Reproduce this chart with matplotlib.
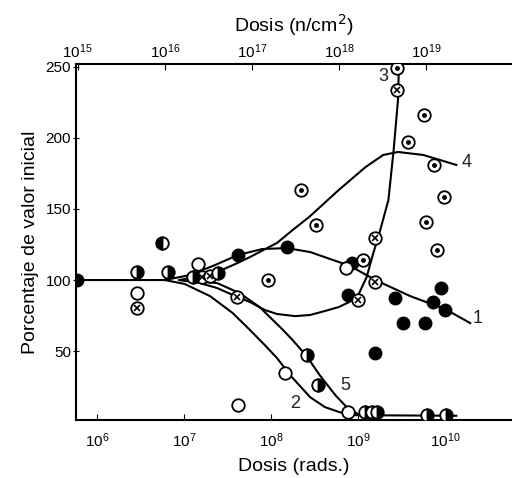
import numpy as np
import matplotlib
matplotlib.use('Agg')
import matplotlib.pyplot as plt

plt.rcParams['font.family'] = ['Liberation Sans', 'DejaVu Sans']

# Curves (log10 of dose in rads, percentage of initial value)
c1_logx = [5.76, 6.78, 7.07, 7.36, 7.62, 7.90, 8.18, 8.45, 8.68, 8.91, 9.20, 9.60, 10.0, 10.29]
c1_y = [100, 100, 103.5, 110.6, 117.6, 121.8, 122.5, 119.7, 114.8, 109.9, 100, 88.7, 79.6, 69.7]

c2_logx = [6.78, 7.01, 7.30, 7.56, 7.76, 7.93, 8.07, 8.22, 8.45, 8.62, 8.79, 8.97, 10.13]
c2_y = [100, 97.2, 88.7, 76.8, 64.8, 54.2, 45.1, 33.1, 17.6, 10.6, 7.0, 4.9, 4.5]

c3_logx = [6.95, 7.18, 7.38, 7.59, 7.76, 7.93, 8.07, 8.28, 8.45, 8.62, 8.78, 8.90, 9.00,
           9.10, 9.17, 9.25, 9.35, 9.41, 9.46, 9.47]
c3_y = [100, 97.9, 94.4, 88.7, 84.5, 78.9, 76.1, 74.6, 75.4, 78.2, 81.0, 84.5, 89.0,
        102.1, 117.6, 133.8, 156.3, 191.5, 226.8, 249.3]

c4_logx = [6.95, 7.18, 7.38, 7.60, 7.76, 8.07, 8.25, 8.44, 8.78, 9.09, 9.29, 9.46, 9.75, 10.13]
c4_y = [100, 102.8, 105.6, 111.5, 116.2, 126.1, 135.2, 144.4, 163.4, 179.6, 188.0, 190.1, 188.0, 181.0]

c5_logx = [6.95, 7.38, 7.64, 7.87, 8.14, 8.25, 8.41, 8.56, 8.74, 8.87, 9.02]
c5_y = [100, 97.9, 90.8, 81.0, 64.8, 57.7, 46.5, 33.1, 19.0, 10.6, 4.9]

# Measured points
filled_logx = [5.77, 7.62, 8.18, 8.93, 8.89, 9.95, 9.43, 9.86, 10.0, 9.52, 9.77, 9.20]
filled_y = [100, 117.6, 123.2, 112.0, 89.4, 94.4, 87.3, 84.5, 78.9, 69.7, 69.7, 48.6]

open_logx = [6.46, 7.16, 8.86, 7.62, 8.16, 8.89]
open_y = [90.8, 111.3, 108.5, 12.0, 34.5, 7.0]

dot_logx = [7.97, 8.35, 8.52, 9.06, 9.58, 9.76, 9.87, 9.99, 9.78, 9.91, 9.45]
dot_y = [100, 163.4, 138.7, 114.1, 197.2, 216.2, 181.0, 158.5, 140.8, 121.1, 249.3]

cross_logx = [6.46, 7.61, 9.20, 9.20, 9.00, 9.45, 7.21, 7.30]
cross_y = [80.3, 88.0, 129.6, 98.6, 85.9, 233.8, 102.1, 103.0]

half_logx = [6.46, 6.82, 8.41, 8.54, 9.08, 9.16, 9.22, 9.79, 10.01, 7.10, 7.39]
half_y = [105.6, 105.6, 47.2, 26.1, 7.0, 7.0, 7.0, 4.9, 4.9, 102.1, 104.9]

halfl_logx = [6.75]
halfl_y = [126.1]

curve_labels = ['1', '2', '3', '4', '5']
label_logx = [10.37, 8.28, 9.29, 10.25, 8.86]
label_y = [73, 13, 243, 183, 26]

fig = plt.figure(figsize=(5.12, 4.78), dpi=100)
ax = fig.add_axes([0.1484, 0.1213, 0.8516, 0.7448])
ax.set_xscale('log')
ax.set_xlim(10**5.76, 10**10.77)
ax.set_ylim(1.5, 252)

def tx(v):
    return 10 ** np.array(v)

for lx, yy in [(c1_logx, c1_y), (c2_logx, c2_y), (c3_logx, c3_y), (c4_logx, c4_y), (c5_logx, c5_y)]:
    ax.plot(tx(lx), yy, color='black', lw=1.5, zorder=2)

ms = 9
ax.plot(tx(filled_logx), filled_y, 'o', ms=ms, color='black', zorder=3)
ax.plot(tx(open_logx), open_y, 'o', ms=ms, mfc='white', mec='black', mew=1.3, zorder=3)
ax.plot(tx(dot_logx), dot_y, 'o', ms=ms, mfc='white', mec='black', mew=1.3, zorder=3)
ax.plot(tx(dot_logx), dot_y, 'o', ms=2.5, color='black', zorder=4)
ax.plot(tx(cross_logx), cross_y, 'o', ms=ms, mfc='white', mec='black', mew=1.3, zorder=3)
ax.plot(tx(cross_logx), cross_y, 'x', ms=5, color='black', mew=1.2, zorder=4)
ax.plot(tx(half_logx), half_y, 'o', ms=ms, fillstyle='right', mfc='black',
        mfcalt='white', mec='black', mew=1.3, zorder=3)
ax.plot(tx(halfl_logx), halfl_y, 'o', ms=ms, fillstyle='left', mfc='black',
        mfcalt='white', mec='black', mew=1.3, zorder=3)

for t, lx, yy in zip(curve_labels, label_logx, label_y):
    ax.text(10 ** lx, yy, t, fontsize=13, ha='center', va='center', color='#222222')

ax.spines['right'].set_visible(False)
ax.spines['top'].set_visible(False)
for s in ['left', 'bottom']:
    ax.spines[s].set_linewidth(1.5)

ax.set_xticks([1e6, 1e7, 1e8, 1e9, 1e10])
ax.xaxis.set_minor_locator(matplotlib.ticker.NullLocator())
ax.set_yticks([50, 100, 150, 200, 250])
ax.tick_params(axis='x', direction='in', length=4, labelsize=11, pad=8)
ax.tick_params(axis='y', direction='inout', length=5, labelsize=11, pad=1)

k = 10 ** 9.22
top = ax.secondary_xaxis('top', functions=(lambda x: x * k, lambda x: x / k))
top.set_xticks([1e15, 1e16, 1e17, 1e18, 1e19])
top.xaxis.set_minor_locator(matplotlib.ticker.NullLocator())
top.tick_params(axis='x', direction='in', length=4, labelsize=11, pad=2)
top.spines['top'].set_linewidth(1.5)
top.set_xlabel('Dosis (n/cm$^2$)', fontsize=14, labelpad=8)

ax.set_xlabel('Dosis (rads.)', fontsize=14, labelpad=6)
ax.set_ylabel('Porcentaje de valor inicial', fontsize=14, labelpad=5)

fig.savefig('out.png', dpi=100)
